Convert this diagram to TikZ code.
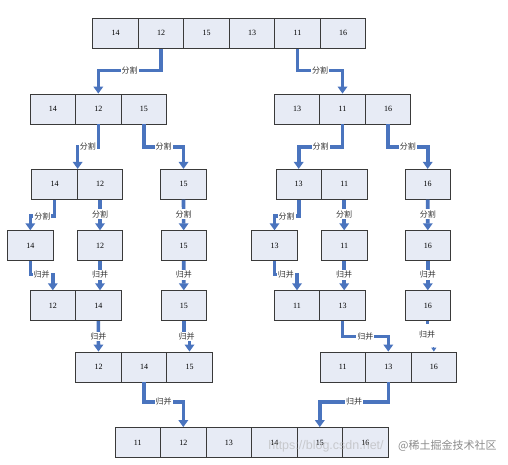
\documentclass[tikz,border=0pt]{standalone}
\usepackage{fontspec}
\setmainfont{Liberation Serif}
\newfontfamily\cjk{Noto Sans CJK SC}
\newfontfamily\wmfont{Liberation Sans}
\usetikzlibrary{arrows.meta}
\definecolor{cellfill}{HTML}{E7EBF5}
\definecolor{cellline}{HTML}{3A3A3A}
\definecolor{connblue}{HTML}{4A74BE}
\begin{document}
\begin{tikzpicture}[x=1pt,y=-1pt,
 cell/.style={draw=cellline,line width=0.8pt,fill=cellfill,minimum width=45.5pt,minimum height=30pt,inner sep=0pt,font=\fontsize{8}{9}\selectfont},
 conn/.style={draw=connblue,line width=3.6pt,-{Triangle[width=9.5pt,length=7pt]}},
 lbl/.style={fill=white,inner sep=1pt,font=\cjk\fontsize{8}{9}\selectfont,text=black!80},
 wm/.style={inner sep=0pt,text=black!30}]
\useasboundingbox[fill=white] (0,0) rectangle (508,465);
% row 1
\node[cell] (r1a) at (115.5,33.3) {14};
\node[cell] (r1b) at (161,33.3) {12};
\node[cell] (r1c) at (206.5,33.3) {15};
\node[cell] (r1d) at (252,33.3) {13};
\node[cell] (r1e) at (297.5,33.3) {11};
\node[cell] (r1f) at (343,33.3) {16};
% row 2
\node[cell] (l2a) at (52.8,109) {14};
\node[cell] (l2b) at (98.3,109) {12};
\node[cell] (l2c) at (143.8,109) {15};
\node[cell] (r2a) at (297,109) {13};
\node[cell] (r2b) at (342.5,109) {11};
\node[cell] (r2c) at (388,109) {16};
% row 3
\node[cell] (l3a) at (54.5,184.3) {14};
\node[cell] (l3b) at (100,184.3) {12};
\node[cell] (l3c) at (183.5,184.3) {15};
\node[cell] (r3a) at (298.7,184.3) {13};
\node[cell] (r3b) at (344.2,184.3) {11};
\node[cell] (r3c) at (427.7,184.3) {16};
% row 4
\node[cell] (l4a) at (30.3,245.7) {14};
\node[cell] (l4b) at (100,245.7) {12};
\node[cell] (l4c) at (183.7,245.7) {15};
\node[cell] (r4a) at (274.5,245.7) {13};
\node[cell] (r4b) at (344.2,245.7) {11};
\node[cell] (r4c) at (427.8,245.7) {16};
% row 5
\node[cell] (l5a) at (52.8,305.7) {12};
\node[cell] (l5b) at (98.3,305.7) {14};
\node[cell] (l5c) at (183.8,305.7) {15};
\node[cell] (r5a) at (297,305.7) {11};
\node[cell] (r5b) at (342.5,305.7) {13};
\node[cell] (r5c) at (427.8,305.7) {16};
% row 6
\node[cell] (l6a) at (98.5,367) {12};
\node[cell] (l6b) at (144,367) {14};
\node[cell] (l6c) at (189.5,367) {15};
\node[cell] (r6a) at (342.8,367) {11};
\node[cell] (r6b) at (388.3,367) {13};
\node[cell] (r6c) at (433.8,367) {16};
% row 7
\node[cell] (s1) at (137.8,442.5) {11};
\node[cell] (s2) at (183.3,442.5) {12};
\node[cell] (s3) at (228.8,442.5) {13};
\node[cell] (s4) at (274.3,442.5) {14};
\node[cell] (s5) at (319.8,442.5) {15};
\node[cell] (s6) at (365.3,442.5) {16};

% split connectors
\draw[conn] (r1b.south) -- ++(0,22) -| node[lbl,pos=0.25] (k1) {分割} (l2b.north);
\draw[conn] (r1e.south) -- ++(0,22) -| node[lbl,pos=0.25] (k2) {分割} (r2b.north);
\draw[conn] (l2b.south) -- ++(0,22.5) -| node[lbl,pos=0.25] (k3) {分割} (l3a.north east);
\draw[conn] (l2c.south) -- ++(0,22.5) -| node[lbl,pos=0.25] (k4) {分割} (l3c.north);
\draw[conn] (r2b.south) -- ++(0,22.5) -| node[lbl,pos=0.25] (k5) {分割} (r3a.north);
\draw[conn] (r2c.south) -- ++(0,22.5) -| node[lbl,pos=0.25] (k6) {分割} (r3c.north);
\draw[conn] (l3a.south) -- ++(0,16.4) -| node[lbl,pos=0.25] (k7) {分割} (l4a.north);
\draw[conn] (l3b.south) -- node[lbl,pos=0.47] (k8) {分割} (l4b.north);
\draw[conn] (l3c.south) -- node[lbl,pos=0.47] (k9) {分割} (l4c.north);
\draw[conn] (r3a.south) -- ++(0,16.4) -| node[lbl,pos=0.25] (k10) {分割} (r4a.north);
\draw[conn] (r3b.south) -- node[lbl,pos=0.47] (k11) {分割} (r4b.north);
\draw[conn] (r3c.south) -- node[lbl,pos=0.47] (k12) {分割} (r4c.north);

% merge connectors
\draw[conn] (l4a.south) -- ++(0,13.3) -| node[lbl,pos=0.25] (m1) {归并} (l5a.north);
\draw[conn] (l4b.south) -- node[lbl,pos=0.47] (m2) {归并} (l4b.south |- l5b.north);
\draw[conn] (l4c.south) -- node[lbl,pos=0.47] (m3) {归并} (l5c.north);
\draw[conn] (r4a.south) -- ++(0,13.3) -| node[lbl,pos=0.25] (m4) {归并} (r5a.north);
\draw[conn] (r4b.south) -- node[lbl,pos=0.47] (m5) {归并} (r4b.south |- r5b.north);
\draw[conn] (r4c.south) -- node[lbl,pos=0.47] (m6) {归并} (r5c.north);
\draw[conn] (l5b.south) -- node[lbl,pos=0.5] (m7) {归并} (l6a.north);
\draw[conn] (l5c.south) -- ++(0,15.3) -| node[lbl,pos=0.25] (m8) {归并} (l6c.north);
\draw[conn] (r5b.south) -- ++(0,15.3) -| node[lbl,pos=0.25] (m9) {归并} (r6b.north);
\draw[connblue,line width=3pt] (r5c.south) -- ++(0,2.5) coordinate (r5cstub);
\path (r6c.north) ++(0,-4.5) coordinate (r6ctop);
\draw[connblue,line width=1pt,-{Triangle[width=5pt,length=4pt]}] (r6ctop) -- (r6c.north);
\node[lbl] (m10) at (427,334) {归并};
\draw[conn] (l6b.south) -- ++(0,19.4) -| node[lbl,pos=0.25] (m11) {归并} (s2.north);
\draw[conn] (r6b.south) -- ++(0,19.4) -| node[lbl,pos=0.25] (m12) {归并} (s5.north);

% watermark
\node[wm,font=\wmfont\fontsize{12.5}{13}\selectfont,opacity=0.6] (wm1) at (326,446) {https://blog.csdn.net/};
\node[wm,font=\cjk\fontsize{11}{12}\selectfont,text=black!45,anchor=west] (wm2) at (398,446) {@稀土掘金技术社区};
\end{tikzpicture}
\end{document}
